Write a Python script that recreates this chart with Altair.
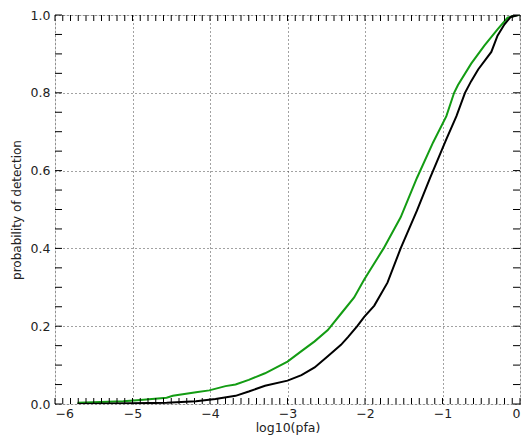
import altair as alt
import pandas as pd

# Green ROC curve (log10 pfa, probability of detection)
green_x = [-5.71, -5.12, -4.90, -4.56, -4.48, -4.18, -4.01, -3.80, -3.67, -3.50, -3.29,
           -3.00, -2.82, -2.65, -2.48, -2.31, -2.14, -2.01, -1.76, -1.54, -1.33, -1.12,
           -0.95, -0.85, -0.80, -0.63, -0.46, -0.29, -0.16, -0.03, 0.0]
green_y = [0.003, 0.007, 0.010, 0.016, 0.021, 0.030, 0.035, 0.046, 0.050, 0.062, 0.079,
           0.109, 0.136, 0.161, 0.190, 0.232, 0.274, 0.320, 0.400, 0.480, 0.581, 0.673,
           0.740, 0.800, 0.820, 0.875, 0.921, 0.963, 0.993, 1.000, 1.000]

# Black ROC curve
black_x = [-5.71, -4.56, -4.18, -3.93, -3.67, -3.50, -3.29, -3.00, -2.82, -2.65, -2.48,
           -2.31, -2.22, -2.10, -2.01, -1.88, -1.71, -1.54, -1.33, -1.16, -0.95, -0.82,
           -0.71, -0.63, -0.54, -0.37, -0.29, -0.20, -0.12, -0.02]
black_y = [0.000, 0.003, 0.007, 0.013, 0.021, 0.032, 0.047, 0.060, 0.074, 0.094, 0.123,
           0.152, 0.172, 0.200, 0.224, 0.253, 0.312, 0.400, 0.497, 0.581, 0.681, 0.740,
           0.800, 0.830, 0.860, 0.905, 0.947, 0.976, 0.995, 1.000]

x_major = [-6, -5, -4, -3, -2, -1, 0]
y_major = [0.0, 0.2, 0.4, 0.6, 0.8, 1.0]
x_minor = [round(-6 + i * 0.1, 2) for i in range(61)]
y_minor = [round(i * 0.05, 2) for i in range(21)]

W, H = 465, 389
FONT = "DejaVu Sans"

curves = pd.concat([
    pd.DataFrame({"x": green_x, "y": green_y, "series": "green", "order": range(len(green_x))}),
    pd.DataFrame({"x": black_x, "y": black_y, "series": "black", "order": range(len(black_x))}),
])

xscale = alt.Scale(domain=[-6, 0], nice=False, zero=False)
yscale = alt.Scale(domain=[0, 1], nice=False, zero=False)

base = alt.Chart(curves).mark_line(strokeWidth=2, clip=True).encode(
    x=alt.X("x:Q", scale=xscale, title="log10(pfa)",
            axis=alt.Axis(values=x_major, format="d", grid=True, gridDash=[1, 3],
                          gridColor="#444", gridOpacity=1, ticks=False, domain=False,
                          labelPadding=3, labelFontSize=12.5, labelFont=FONT,
                          labelColor="#222", titleFont=FONT, titleFontSize=12.5,
                          titleFontWeight="normal", titleColor="#222", titlePadding=2)),
    y=alt.Y("y:Q", scale=yscale, title="probability of detection",
            axis=alt.Axis(values=y_major, format=".1f", grid=True, gridDash=[1, 3],
                          gridColor="#444", gridOpacity=1, ticks=False, domain=False,
                          labelPadding=5, labelFontSize=12.5, labelFont=FONT,
                          labelColor="#222", titleFont=FONT, titleFontSize=12,
                          titleFontWeight="normal", titleColor="#222", titlePadding=7)),
    color=alt.Color("series:N", scale=alt.Scale(domain=["green", "black"],
                                                range=["#139c13", "#000000"]), legend=None),
    order="order:Q",
    detail="series:N",
)

xt = pd.DataFrame({"x": x_minor})
yt = pd.DataFrame({"y": y_minor})

bottom_ticks = alt.Chart(xt).mark_rule(color="black", strokeWidth=1).encode(
    x=alt.X("x:Q", scale=xscale), y=alt.value(H), y2=alt.value(H - 6))
top_ticks = alt.Chart(xt).mark_rule(color="black", strokeWidth=1).encode(
    x=alt.X("x:Q", scale=xscale), y=alt.value(0), y2=alt.value(6))
left_ticks = alt.Chart(yt).mark_rule(color="black", strokeWidth=1).encode(
    y=alt.Y("y:Q", scale=yscale), x=alt.value(0), x2=alt.value(7))
right_ticks = alt.Chart(yt).mark_rule(color="black", strokeWidth=1).encode(
    y=alt.Y("y:Q", scale=yscale), x=alt.value(W), x2=alt.value(W - 7))

chart = alt.layer(base, bottom_ticks, top_ticks, left_ticks, right_ticks).properties(
    width=W, height=H,
    autosize=alt.AutoSizeParams(type="none"),
    padding={"left": 47, "top": 7, "right": 1, "bottom": 34},
).configure_view(stroke="black", strokeWidth=1.5).configure(background="white")

chart.save("out.html", embed_options={"renderer": "svg", "actions": False})
